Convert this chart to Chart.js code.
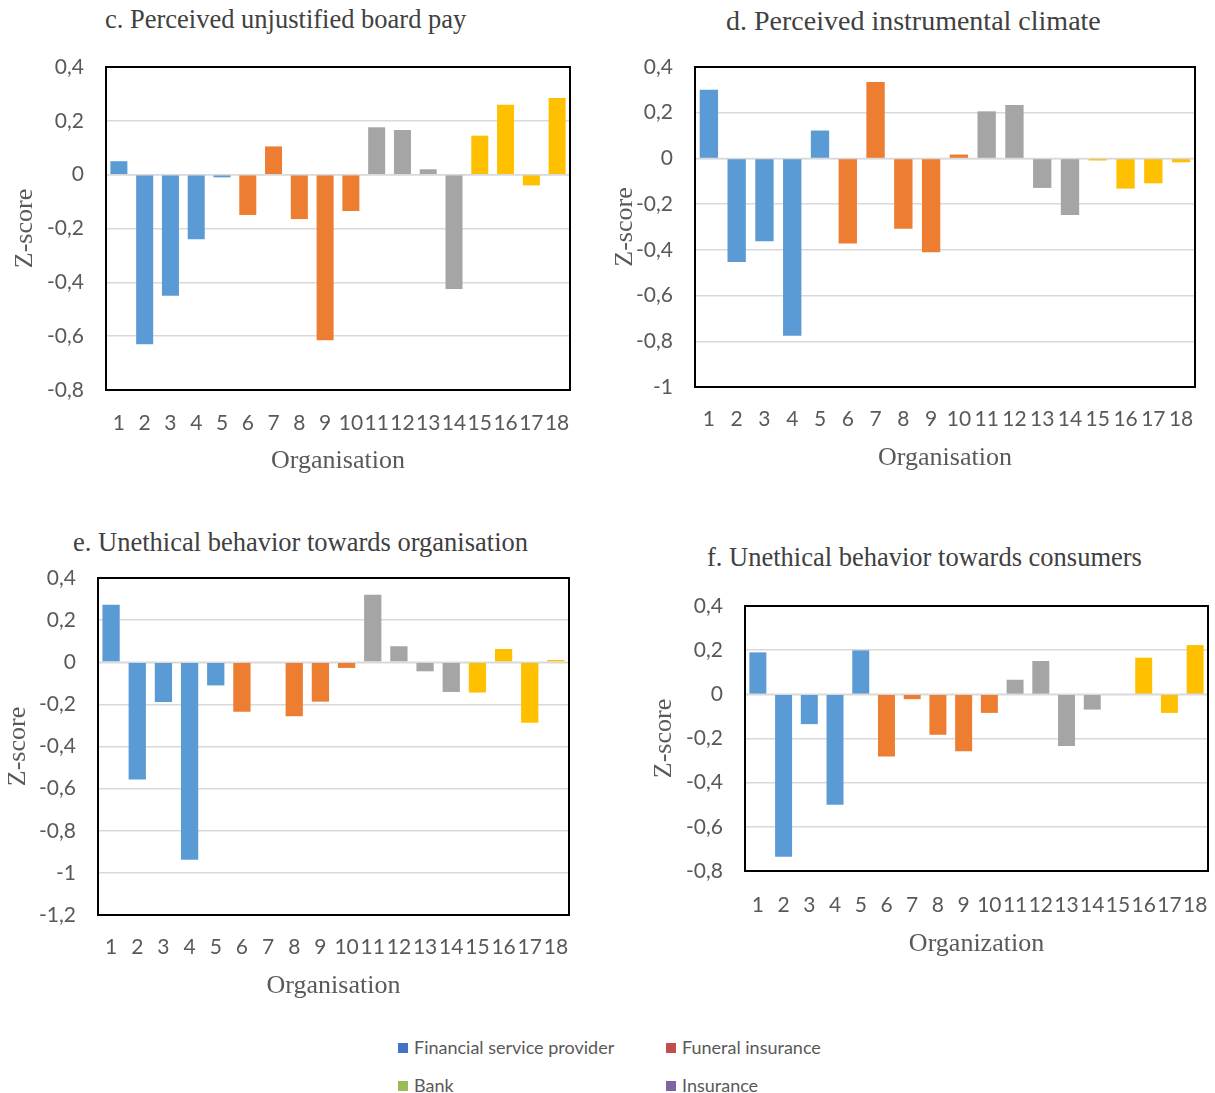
<!DOCTYPE html>
<html>
<head>
<meta charset="utf-8">
<script src="https://cdn.jsdelivr.net/npm/chart.js@4.4.1/dist/chart.umd.min.js"></script>
<style>
  body { margin: 0; background: #fff; width: 1215px; height: 1093px; position: relative; overflow: hidden; }
  .box { position: absolute; }
  .ttl { position: absolute; font-family: "Liberation Serif", "Times New Roman", serif; font-size: 26.5px; color: #404040; white-space: nowrap; line-height: 1; }
  .leg { position: absolute; font-family: Lato, "Open Sans", sans-serif; font-size: 18px; color: #595959; white-space: nowrap; line-height: 1; }
  .leg i { display: inline-block; width: 10px; height: 10px; margin-right: 6px; vertical-align: 1px; }
</style>
</head>
<body>

<div class="ttl" style="left:105px; top:6px">c. Perceived unjustified board pay</div>
<div class="ttl" style="left:726px; top:7px; font-size:28px">d. Perceived instrumental climate</div>
<div class="ttl" style="left:73px; top:529px">e. Unethical behavior towards organisation</div>
<div class="ttl" style="left:707px; top:544px">f. Unethical behavior towards consumers</div>

<div class="box" style="left:0; top:0; width:600px; height:480px"><canvas id="chartC"></canvas></div>
<div class="box" style="left:605px; top:0; width:610px; height:480px"><canvas id="chartD"></canvas></div>
<div class="box" style="left:0; top:520px; width:600px; height:490px"><canvas id="chartE"></canvas></div>
<div class="box" style="left:605px; top:520px; width:610px; height:450px"><canvas id="chartF"></canvas></div>

<div class="leg" style="left:398px; top:1038px"><i style="background:#4472C4"></i>Financial service provider</div>
<div class="leg" style="left:666px; top:1038px"><i style="background:#C0504D"></i>Funeral insurance</div>
<div class="leg" style="left:398px; top:1076px"><i style="background:#9BBB59"></i>Bank</div>
<div class="leg" style="left:666px; top:1076px"><i style="background:#8064A2"></i>Insurance</div>

<script>
// organisations 1..18
const organisations = ["1","2","3","4","5","6","7","8","9","10","11","12","13","14","15","16","17","18"];
// sector group of each organisation (0 blue, 1 orange, 2 grey, 3 gold)
const orgGroup = [0,0,0,0,0, 1,1,1,1,1, 2,2,2,2, 3,3,3,3];
const groupColors = ["#5B9BD5", "#ED7D31", "#A5A5A5", "#FFC000"];

// z-scores per panel
const unjustifiedPay = [0.05, -0.63, -0.45, -0.24, -0.01, -0.15, 0.105, -0.165, -0.615, -0.135, 0.176, 0.166, 0.02, -0.425, 0.145, 0.26, -0.04, 0.285];
const instrumentalClimate = [0.30, -0.453, -0.362, -0.776, 0.122, -0.372, 0.334, -0.308, -0.411, 0.017, 0.206, 0.234, -0.129, -0.247, -0.009, -0.132, -0.109, -0.017];
const unethicalOrg = [0.273, -0.557, -0.189, -0.938, -0.11, -0.235, 0, -0.256, -0.187, -0.027, 0.32, 0.076, -0.043, -0.141, -0.144, 0.063, -0.287, 0.011];
const unethicalConsumers = [0.19, -0.735, -0.135, -0.50, 0.199, -0.282, -0.022, -0.183, -0.258, -0.084, 0.066, 0.151, -0.234, -0.069, 0, 0.166, -0.084, 0.223];

const barColors = orgGroup.map(g => groupColors[g]);

const framePlugin = {
  id: "frame",
  afterDatasetsDraw(chart) {
    const { ctx, chartArea: a, scales } = chart;
    const y0 = scales.y.getPixelForValue(0);
    ctx.save();
    ctx.strokeStyle = "#D9D9D9";
    ctx.lineWidth = 1.5;
    ctx.beginPath();
    ctx.moveTo(a.left, y0);
    ctx.lineTo(a.right, y0);
    ctx.stroke();
    ctx.strokeStyle = "#000";
    ctx.lineWidth = 2;
    ctx.strokeRect(a.left, a.top, a.right - a.left, a.bottom - a.top);
    ctx.restore();
  }
};

const tickFont = { family: "Lato, 'Open Sans', sans-serif", size: 21 };
const titleFont = { family: "'Liberation Serif', 'Times New Roman', serif", size: 26 };

function makeChart(id, values, xTitle, yMin, geo) {
  return new Chart(document.getElementById(id), {
    type: "bar",
    data: {
      labels: organisations,
      datasets: [{
        data: values,
        backgroundColor: barColors,
        borderWidth: 0,
        categoryPercentage: 1,
        barPercentage: 0.66
      }]
    },
    options: {
      responsive: true,
      maintainAspectRatio: false,
      animation: false,
      layout: { padding: { top: geo.top, right: geo.right, left: 0, bottom: 0 } },
      plugins: { legend: { display: false }, tooltip: { enabled: false } },
      scales: {
        x: {
          // invisible tick marks push the labels down without widening the side padding
          grid: { color: "rgba(0,0,0,0)", drawOnChartArea: false, drawTicks: true, tickLength: geo.xTickPad },
          border: { display: false },
          ticks: { color: "#595959", font: tickFont, padding: 0, autoSkip: false, maxRotation: 0, minRotation: 0 },
          title: { display: true, text: xTitle, color: "#595959", font: titleFont, padding: { top: 0, bottom: geo.xTitlePad } },
          afterFit(s) { s.height = geo.xHeight; }
        },
        y: {
          min: yMin,
          max: 0.4,
          grid: { color: "#D9D9D9", lineWidth: 1.5, drawTicks: false },
          border: { display: false },
          ticks: {
            stepSize: 0.2,
            color: "#595959",
            font: tickFont,
            padding: 22,
            callback: v => String(Math.round(v * 10) / 10).replace(".", ",")
          },
          title: { display: true, text: "Z-score", color: "#595959", font: titleFont, padding: { top: geo.yTitlePad, bottom: 0 } },
          afterFit(s) { s.width = geo.yWidth; }
        }
      }
    },
    plugins: [framePlugin]
  });
}

makeChart("chartC", unjustifiedPay, "Organisation", -0.8,
  { top: 67, right: 30, yWidth: 106, xHeight: 90, xTickPad: 21, xTitlePad: 3, yTitlePad: 10 });
makeChart("chartD", instrumentalClimate, "Organisation", -1,
  { top: 67, right: 20, yWidth: 90, xHeight: 93, xTickPad: 20, xTitlePad: 6, yTitlePad: 5 });
makeChart("chartE", unethicalOrg, "Organisation", -1.2,
  { top: 58, right: 31, yWidth: 98, xHeight: 95, xTickPad: 20, xTitlePad: 8, yTitlePad: 3 });
makeChart("chartF", unethicalConsumers, "Organization", -0.8,
  { top: 86, right: 7, yWidth: 140, xHeight: 99, xTickPad: 22, xTitlePad: 10, yTitlePad: 44 });
</script>
</body>
</html>
